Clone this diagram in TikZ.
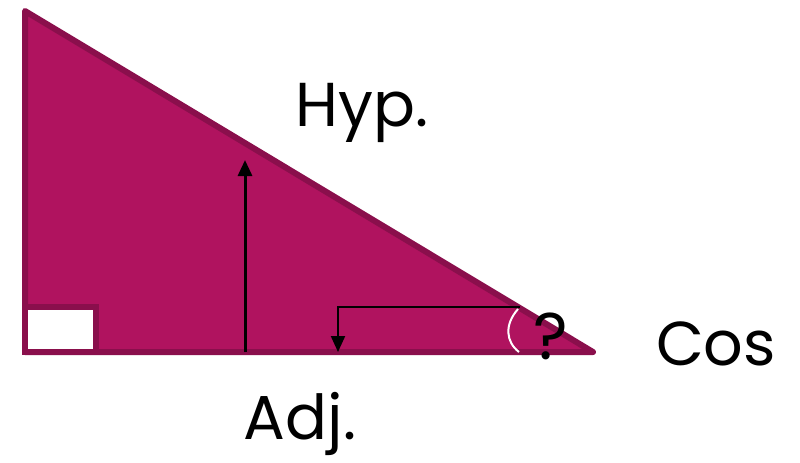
\documentclass[tikz,border=0pt]{standalone}
\usepackage{fontspec}
\setmainfont{Poppins}
\usepackage{tikz}
\usetikzlibrary{arrows.meta, positioning}
\definecolor{trifill}{HTML}{B0135F}
\definecolor{triedge}{HTML}{8A0F4C}
\tikzstyle{sidelabel} = [font=\fontsize{31}{36}\selectfont, inner sep=0pt]
\tikzstyle{arrow} = [line width=1.5pt, -{Triangle[length=8pt,width=7pt]}, draw=black]

\begin{document}
\begin{tikzpicture}[x=0.5pt, y=-0.5pt]
    \useasboundingbox (0,0) rectangle (800,462);
    % triangle corners
    \coordinate (top) at (25,11);
    \coordinate (corner) at (25,352);
    \coordinate (tip) at (593,352);
    \fill [trifill, draw=triedge, line width=3pt, line join=round] (top) -- (corner) -- (tip) -- cycle;
    \draw [fill=white, draw=triedge, line width=3pt] (25,307) rectangle (96,352);
    % angle mark
    \draw [white, line width=1pt] (518,309) .. controls (504,325) and (506,342) .. (519,352);
    % arrows
    \coordinate (upstart) at (245,352);
    \coordinate (upend) at (245,160);
    \coordinate (bendstart) at (520,307);
    \coordinate (bendend) at (338,352);
    \draw [arrow] (upstart) -- (upend);
    \draw [arrow, line width=1pt] (bendstart) -| (bendend);
    % labels
    \node [sidelabel] (hyp) at (362,113) {Hyp.};
    \node [sidelabel] (adj) at (300,424) {Adj.};
    \node [sidelabel] (cos) at (716,344) {Cos};
    \node [sidelabel, font=\fontsize{33}{36}\selectfont] (angle) at (551,336) {?};
\end{tikzpicture}
\end{document}
